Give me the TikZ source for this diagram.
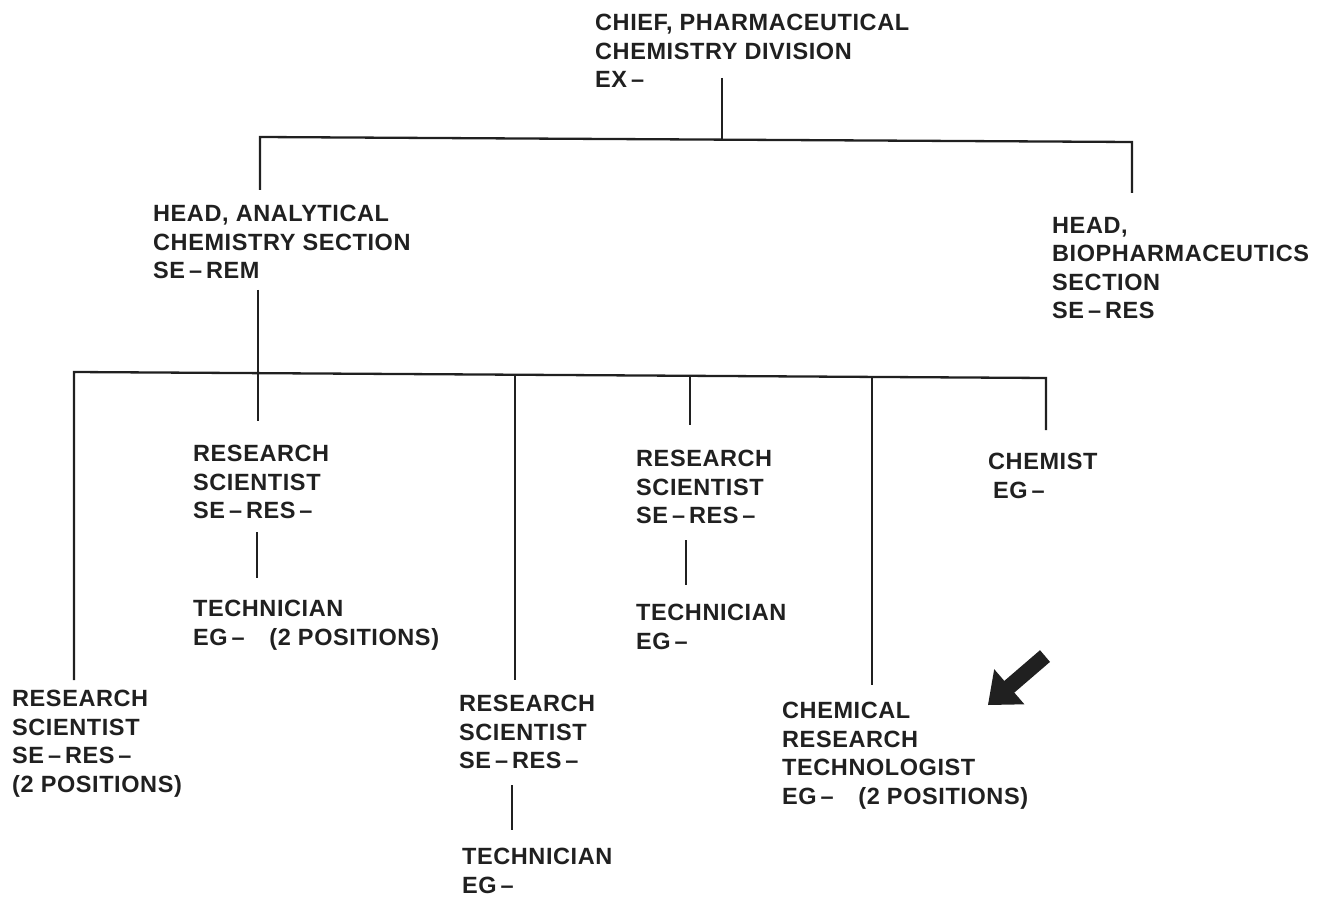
\documentclass[tikz,border=0pt]{standalone}
\usepackage{fontspec}
\newfontfamily\orgfont{Liberation Sans}[LetterSpace=2.5]
\definecolor{ink}{HTML}{202020}
\begin{document}
\begin{tikzpicture}[x=1pt,y=-1pt,
  role/.style={anchor=north west, inner sep=0pt, align=left, text=ink,
    font=\orgfont\bfseries\fontsize{23.5}{28.5}\selectfont},
  link/.style={draw=ink, line width=2.3pt}]
\useasboundingbox (0,0) rectangle (1322,901);

% positions
\node[role] (chief) at (595,14) {CHIEF, PHARMACEUTICAL\\CHEMISTRY DIVISION\\EX\,–};
\node[role] (anal) at (153,205) {HEAD, ANALYTICAL\\CHEMISTRY SECTION\\SE\,–\,REM};
\node[role] (bio) at (1052,217) {HEAD,\\BIOPHARMACEUTICS\\SECTION\\SE\,–\,RES};
\node[role] (rsA) at (193,445) {RESEARCH\\SCIENTIST\\SE\,–\,RES\,–};
\node[role] (techA) at (193,600) {TECHNICIAN\\EG\,–\hspace{1.05em}(2 POSITIONS)};
\node[role] (rsL) at (12,690) {RESEARCH\\SCIENTIST\\SE\,–\,RES\,–\\(2 POSITIONS)};
\node[role] (rsB) at (459,695) {RESEARCH\\SCIENTIST\\SE\,–\,RES\,–};
\node[role] (techB) at (462,848) {TECHNICIAN\\EG\,–};
\node[role] (rsC) at (636,450) {RESEARCH\\SCIENTIST\\SE\,–\,RES\,–};
\node[role] (techC) at (636,604) {TECHNICIAN\\EG\,–};
\node[role] (chem) at (988,453) {CHEMIST\\\hspace{5pt}EG\,–};
\node[role] (crt) at (782,702) {CHEMICAL\\RESEARCH\\TECHNOLOGIST\\EG\,–\hspace{1.05em}(2 POSITIONS)};

% junction points
\coordinate (chiefStem) at (722,78);
\coordinate (busTopL) at (260,137);
\coordinate (busTopR) at (1132,142);
\coordinate (busTopM) at (722,139.6);
\coordinate (analTop) at (260,190);
\coordinate (bioTop) at (1132,193);
\coordinate (analStem) at (258,290);
\coordinate (busL) at (74,372);
\coordinate (busR) at (1046,378);
\coordinate (rsATop) at (258,421);
\coordinate (rsLTop) at (74,680);
\coordinate (busB) at (515,375);
\coordinate (rsBTop) at (515,680);
\coordinate (busC) at (690,376.5);
\coordinate (rsCTop) at (690,425);
\coordinate (busD) at (872,377.2);
\coordinate (crtTop) at (872,685);
\coordinate (chemTop) at (1046,430);
\coordinate (rsAbot) at (257,532);
\coordinate (techAtop) at (257,578);
\coordinate (rsBbot) at (512,785);
\coordinate (techBtop) at (512,830);
\coordinate (rsCbot) at (686,540);
\coordinate (techCtop) at (686,585);

% division level
\draw[link] (chiefStem) -- (busTopM);
\draw[link] (analTop) -- (busTopL) -- (busTopR) -- (bioTop);

% section level
\draw[link] (analStem) -- (rsATop);
\draw[link] (rsLTop) -- (busL) -- (busR) -- (chemTop);
\draw[link] (busB) -- (rsBTop);
\draw[link] (busC) -- (rsCTop);
\draw[link] (busD) -- (crtTop);

% scientist to technician
\draw[link] (rsAbot) -- (techAtop);
\draw[link] (rsBbot) -- (techBtop);
\draw[link] (rsCbot) -- (techCtop);

% pointer arrow
\fill[ink] (1050.0,661.9) -- (1014.3,692.6) -- (1024.4,704.3) -- (988,705)
  -- (994.2,669.2) -- (1004.3,680.9) -- (1040.0,650.2) -- cycle;
\end{tikzpicture}
\end{document}
